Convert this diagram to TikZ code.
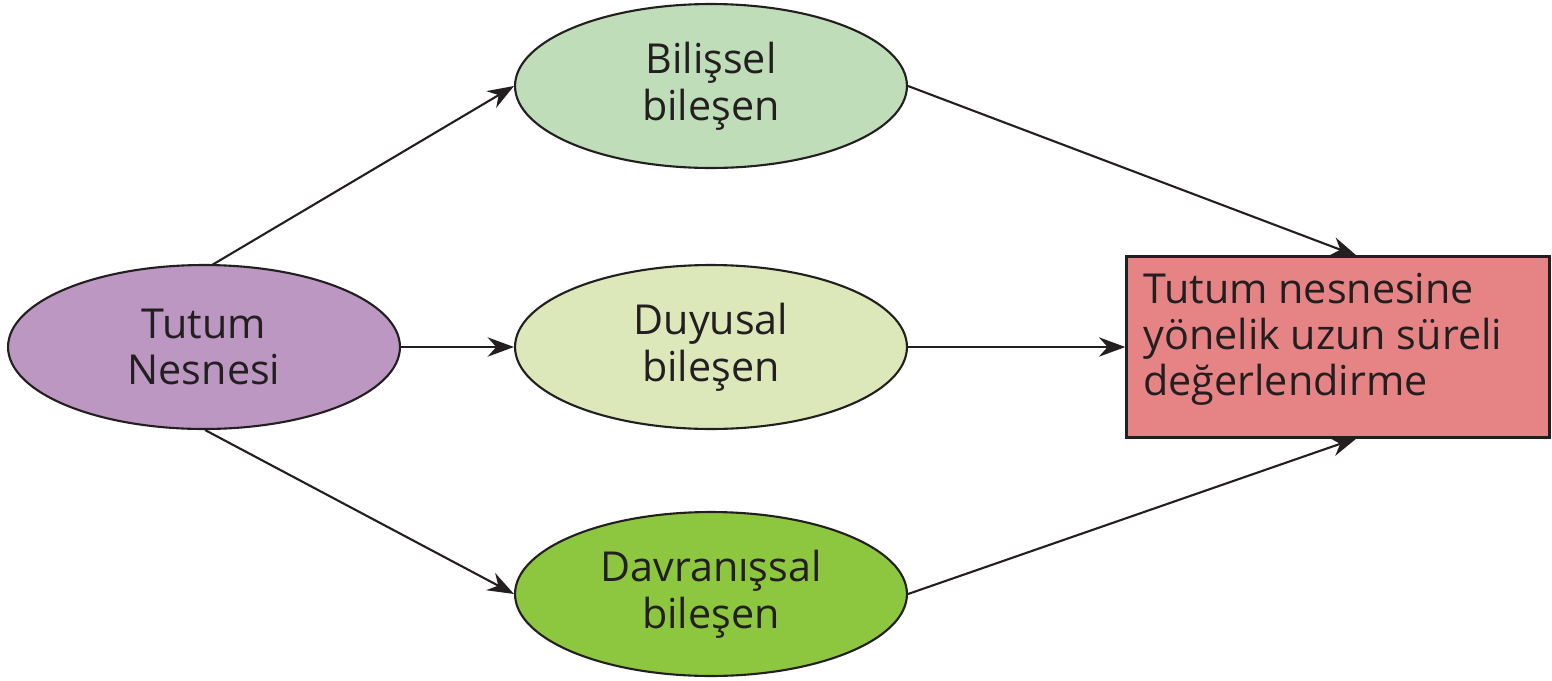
\documentclass[tikz,border=0pt]{standalone}
\usepackage{fontspec}
\setmainfont{Open Sans}
\usetikzlibrary{shapes.geometric,arrows.meta}
\definecolor{objfill}{HTML}{BB97C2}
\definecolor{cogfill}{HTML}{BFDDB8}
\definecolor{afffill}{HTML}{DDE8BA}
\definecolor{behfill}{HTML}{8DC63F}
\definecolor{resfill}{HTML}{E58385}
\definecolor{ink}{HTML}{231F20}
\tikzset{
  comp/.style={ellipse, draw=ink, line width=1.2pt, minimum width=7.84cm, minimum height=3.28cm,
    inner sep=0pt, align=center, font=\fontsize{23.5}{26.5}\selectfont, text=ink},
  result/.style={rectangle, draw=ink, line width=1.4pt, fill=resfill, minimum width=8.46cm,
    minimum height=3.62cm, inner sep=0pt},
  link/.style={draw=ink, line width=1.2pt, -{Stealth[length=15pt,width=11pt]}},
}
\begin{document}
\begin{tikzpicture}[x=0.02cm, y=-0.02cm]
  \useasboundingbox (0,0) rectangle (1552,680);
  % components of attitude
  \node[comp, fill=objfill] (obj) at (204,347) {Tutum\\Nesnesi};
  \node[comp, fill=cogfill] (cog) at (711,86) {Bilişsel\\bileşen};
  \node[comp, fill=afffill] (aff) at (711,347) {Duyusal\\bileşen};
  \node[comp, fill=behfill] (beh) at (711,594) {Davranışsal\\bileşen};
  % long-term evaluation
  \node[result] (res) at (1338,347) {};
  \node[anchor=north west, align=left, inner sep=0pt, font=\fontsize{23.5}{26}\selectfont, text=ink]
    (restext) at (1143,273) {Tutum nesnesine\\yönelik uzun süreli\\değerlendirme};
  % connectors
  \coordinate (objtop) at (212,265);
  \coordinate (objbot) at (205,430);
  \coordinate (restop) at (1357,256);
  \coordinate (resbot) at (1357,438);
  \draw[link] (objtop) -- (cog.west);
  \draw[link] (obj.east) -- (aff.west);
  \draw[link] (objbot) -- (beh.west);
  \draw[link] (cog.east) -- (restop);
  \draw[link] (aff.east) -- (res.west);
  \draw[link] (beh.east) -- (resbot);
\end{tikzpicture}
\end{document}
